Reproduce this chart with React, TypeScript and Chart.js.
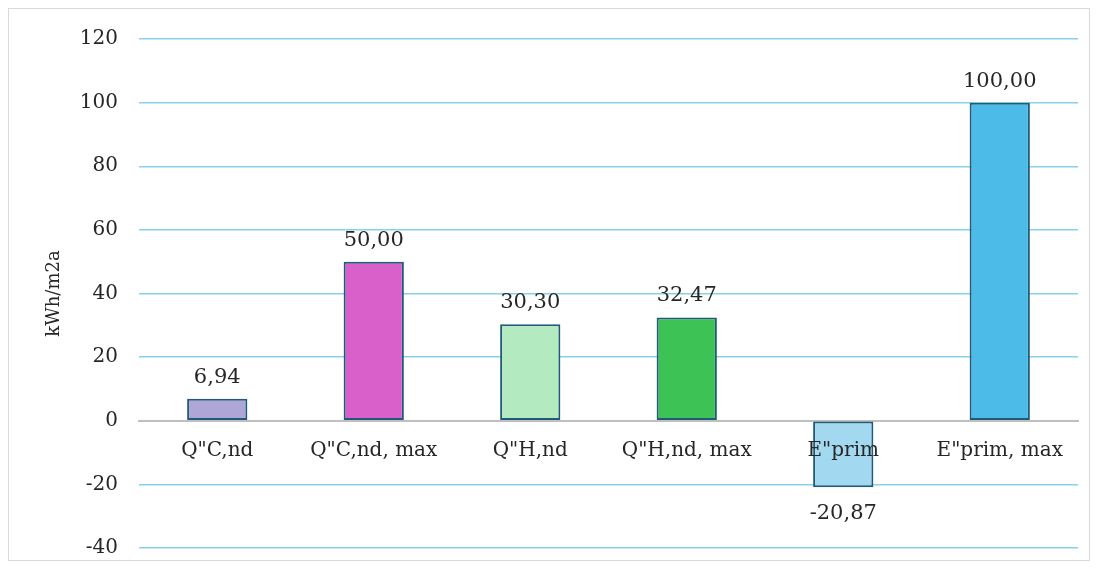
import React, { useEffect, useRef } from "react";
import { Chart, registerables } from "chart.js";

Chart.register(...registerables);

const categories = ['Q"C,nd', 'Q"C,nd, max', 'Q"H,nd', 'Q"H,nd, max', 'E"prim', 'E"prim, max'];
const values = [6.94, 50.0, 30.3, 32.47, -20.87, 100.0];
const barColors = ["#aea6d6", "#d960cb", "#b4eac0", "#3cc255", "#a2d8f0", "#4dbbe8"];
const yMin = -40;
const yMax = 120;
const yStep = 20;
const yTitle = "kWh/m2a";

const FONT = "'DejaVu Serif', serif";
const TEXT = "#262626";

const valueLabels = {
  id: "valueLabels",
  afterDatasetsDraw(chart: any) {
    const ctx = chart.ctx;
    const meta = chart.getDatasetMeta(0);
    ctx.save();
    ctx.font = `21px ${FONT}`;
    ctx.fillStyle = TEXT;
    ctx.textAlign = "center";
    ctx.textBaseline = "alphabetic";
    meta.data.forEach((el: any, i: number) => {
      const v = values[i];
      const txt = v.toFixed(2).replace(".", ",");
      if (v >= 0) ctx.fillText(txt, el.x, el.y - 16);
      else ctx.fillText(txt, el.x, el.y + 32);
    });
    ctx.restore();
  },
};

export default function App() {
  const ref = useRef<HTMLCanvasElement>(null);
  useEffect(() => {
    const chart = new Chart(ref.current!, {
      type: "bar",
      data: {
        labels: categories,
        datasets: [
          {
            data: values,
            backgroundColor: barColors,
            borderColor: "#1f5b78",
            borderWidth: 2,
            borderSkipped: false,
            barPercentage: 0.385,
            categoryPercentage: 1,
          },
        ],
      },
      options: {
        animation: false,
        responsive: false,
        maintainAspectRatio: false,
        layout: { padding: { left: 0, right: 11, top: 30, bottom: 11 } },
        plugins: { legend: { display: false }, tooltip: { enabled: false } },
        scales: {
          x: {
            position: { y: 0 } as any,
            grid: { display: false },
            border: { display: true, color: "#bfbfbf", width: 2 },
            ticks: {
              z: 1,
              color: TEXT,
              font: { family: FONT, size: 20 },
              padding: 10,
              maxRotation: 0,
              autoSkip: false,
            },
          },
          y: {
            min: yMin,
            max: yMax,
            afterFit: (s: any) => {
              s.width = 130;
            },
            border: { display: false },
            grid: {
              drawTicks: true,
              tickLength: 21,
              tickColor: "rgba(0,0,0,0)",
              color: (c: any) => (c.tick && c.tick.value === 0 ? "rgba(0,0,0,0)" : "rgba(95,195,225,0.75)"),
              lineWidth: 1.5,
            },
            ticks: {
              stepSize: yStep,
              color: TEXT,
              font: { family: FONT, size: 20 },
              padding: 0,
            },
            title: {
              display: true,
              text: yTitle,
              color: TEXT,
              font: { family: FONT, size: 18 },
              padding: { top: 35, bottom: 0 },
            },
          },
        },
      },
      plugins: [valueLabels],
    });
    return () => chart.destroy();
  }, []);
  return (
    <div style={{ width: 1080, height: 551, border: "1px solid #d9d9d9", background: "#fff" }}>
      <canvas ref={ref} width={1080} height={551} style={{ display: "block" }} />
    </div>
  );
}
